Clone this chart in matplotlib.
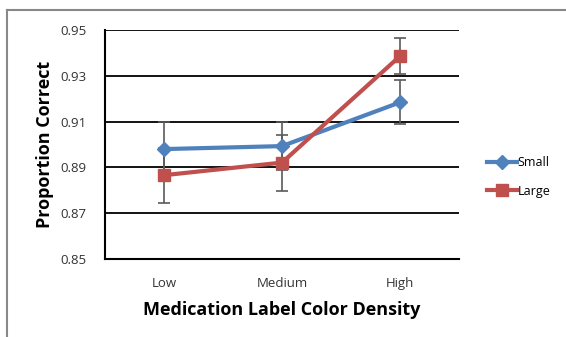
import matplotlib
matplotlib.use("Agg")
import matplotlib.pyplot as plt
from matplotlib.lines import Line2D

categories = ["Low", "Medium", "High"]
small_vals = [0.898, 0.8993, 0.9184]
small_err = [0.012, 0.0105, 0.0096]
large_vals = [0.8866, 0.8921, 0.9386]
large_err = [0.012, 0.0122, 0.0080]
yticks = [0.85, 0.87, 0.89, 0.91, 0.93, 0.95]

plt.rcParams['font.family'] = ['Open Sans', 'DejaVu Sans']

fig = plt.figure(figsize=(5.66, 3.37), dpi=100)
ax = fig.add_axes([105/566, 1-259/337, 354/566, 229/337])

x = list(range(len(categories)))
blue = "#4F81BD"
red = "#C0504D"
errc = "#5a5a5a"

ax.errorbar(x, small_vals, yerr=small_err, fmt='none', ecolor=errc, elinewidth=1.2,
            capsize=4, capthick=1.2, zorder=3)
ax.errorbar(x, large_vals, yerr=large_err, fmt='none', ecolor=errc, elinewidth=1.2,
            capsize=4, capthick=1.2, zorder=3)
ax.plot(x, small_vals, color=blue, lw=3, marker='D', ms=7, zorder=4, label="Small")
ax.plot(x, large_vals, color=red, lw=3, marker='s', ms=9, zorder=5, label="Large")

ax.set_xlim(-0.5, 2.5)
ax.set_ylim(0.85, 0.95)
ax.set_yticks(yticks)
ax.set_yticklabels([f"{v:.2f}" for v in yticks])
ax.set_xticks(x)
ax.set_xticklabels(categories)
ax.tick_params(axis='both', length=0, labelsize=9.5, colors="#333333")
ax.tick_params(axis='y', pad=13)
ax.tick_params(axis='x', pad=13)
ax.yaxis.grid(True, color='black', lw=1.3)
ax.set_axisbelow(True)
for s in ['top', 'right']:
    ax.spines[s].set_visible(False)
for s in ['left', 'bottom']:
    ax.spines[s].set_color('black')
    ax.spines[s].set_linewidth(1.5)

ax.set_ylabel("Proportion Correct", fontsize=13, fontweight='bold', labelpad=5)
ax.set_xlabel("Medication Label Color Density", fontsize=13, fontweight='bold', labelpad=8)

handles = [Line2D([], [], color=blue, lw=3, marker='D', ms=7),
           Line2D([], [], color=red, lw=3, marker='s', ms=9)]
fig.legend(handles, ["Small", "Large"], loc='center left',
           bbox_to_anchor=(476/566, 1-177/337), frameon=False, fontsize=9,
           handlelength=2.4, handletextpad=0.05, labelspacing=1.2)

# partial border
fig.add_artist(Line2D([7/566, 1], [1-10/337, 1-10/337], color='#888888', lw=1.5,
                      transform=fig.transFigure))
fig.add_artist(Line2D([7/566, 7/566], [0, 1-10/337], color='#888888', lw=1.5,
                      transform=fig.transFigure))

fig.savefig("out.png", dpi=100)
